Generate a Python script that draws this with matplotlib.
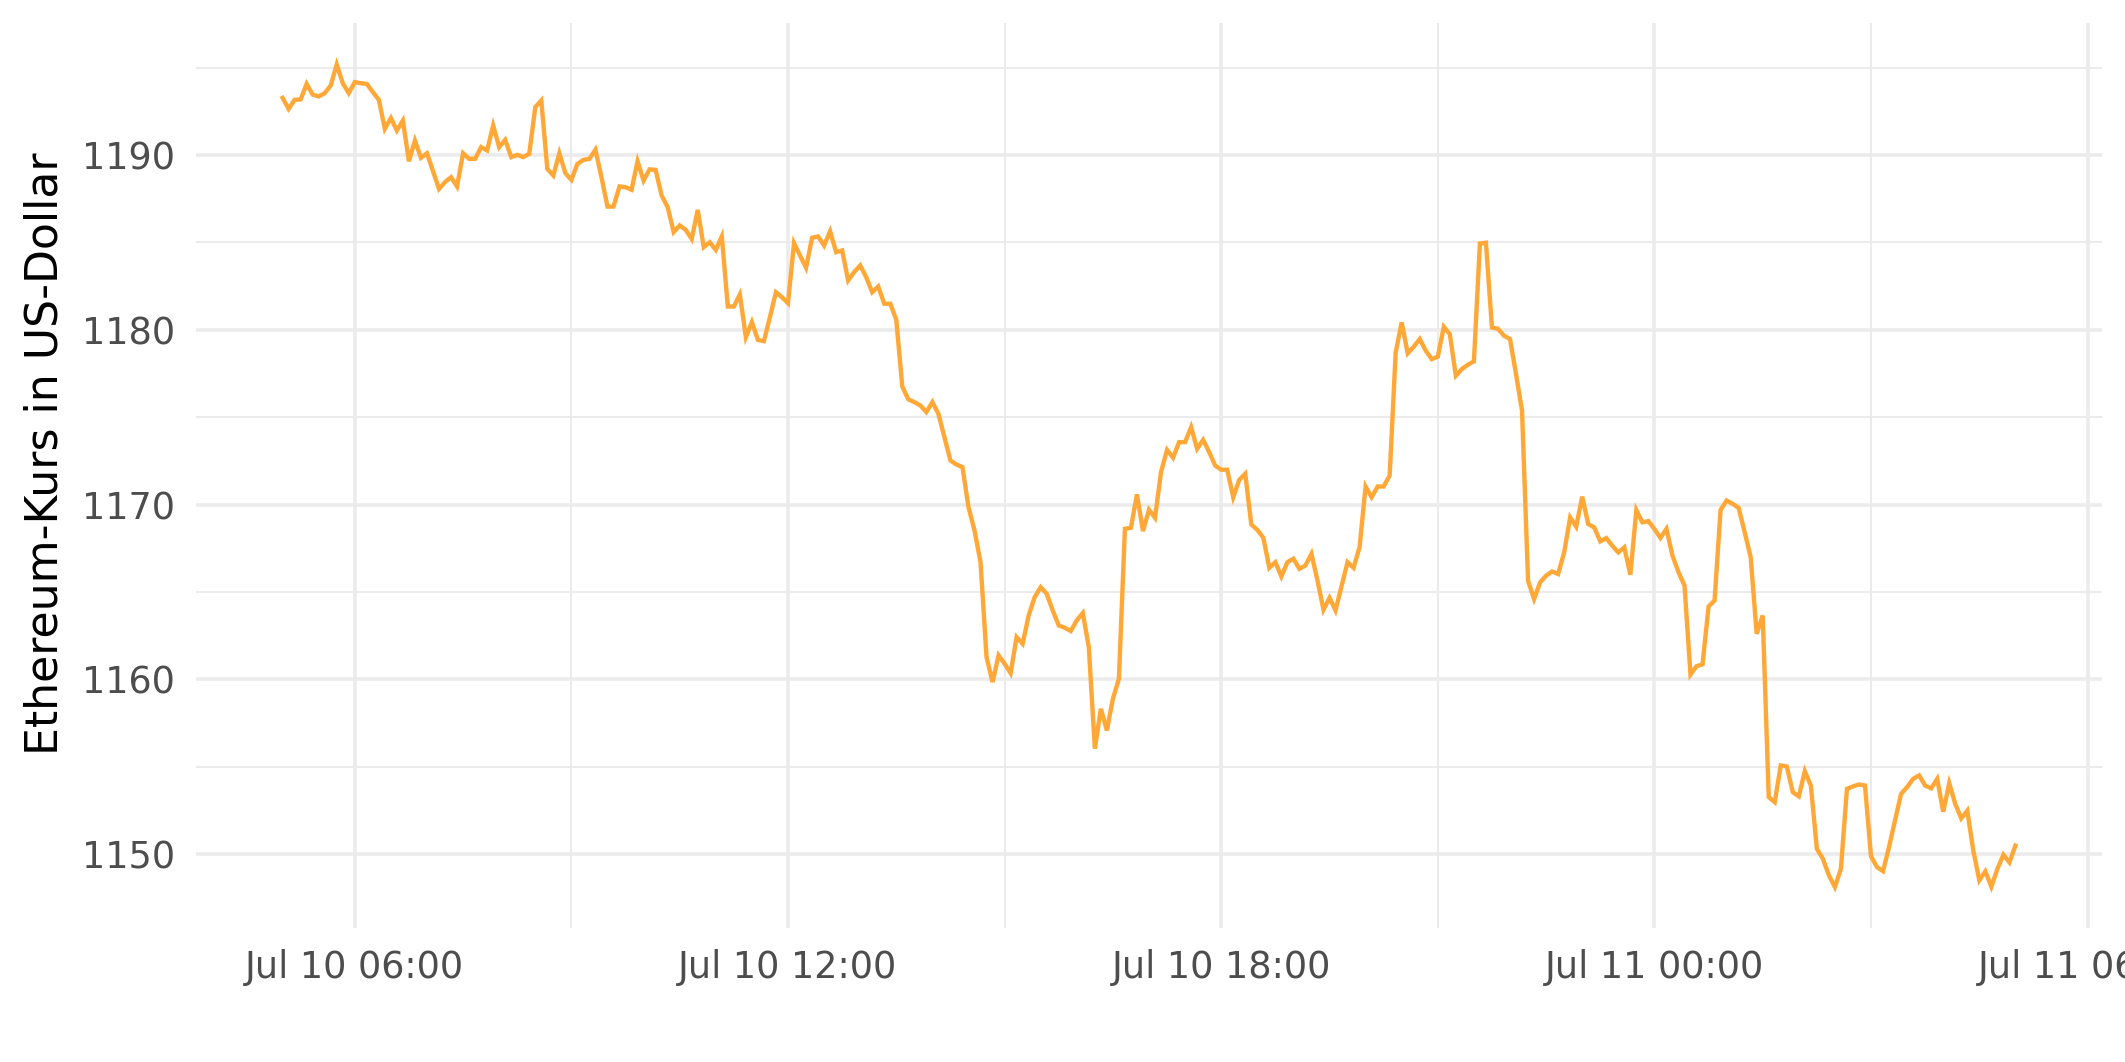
import numpy as np
import pandas as pd
import matplotlib
matplotlib.use("Agg")
import matplotlib.pyplot as plt
import matplotlib.dates as mdates

# 5-minute ETH prices, Jul 10 2022 05:00 -> Jul 11 2022 05:00
start = "2022-07-10 05:00"
freq = "5min"
price = [
    1193.27, 1192.64, 1193.16, 1193.18, 1194.07, 1193.46, 1193.35, 1193.54, 1193.97, 1195.18,
    1194.11, 1193.54, 1194.17, 1194.11, 1194.07, 1193.60, 1193.16, 1191.50, 1192.12, 1191.40,
    1191.97, 1189.64, 1190.83, 1189.84, 1190.10, 1189.08, 1188.06, 1188.45, 1188.73, 1188.20,
    1190.10, 1189.78, 1189.78, 1190.45, 1190.26, 1191.69, 1190.45, 1190.87, 1189.88, 1190.01,
    1189.88, 1190.07, 1192.74, 1193.12, 1189.21, 1188.83, 1190.10, 1188.96, 1188.58, 1189.49,
    1189.72, 1189.78, 1190.30, 1188.73, 1187.05, 1187.05, 1188.20, 1188.16, 1188.01, 1189.64,
    1188.54, 1189.18, 1189.15, 1187.68, 1187.02, 1185.59, 1185.97, 1185.72, 1185.20, 1186.86,
    1184.73, 1185.01, 1184.57, 1185.34, 1181.33, 1181.33, 1182.02, 1179.58, 1180.44, 1179.42,
    1179.35, 1180.72, 1182.15, 1181.86, 1181.52, 1184.96, 1184.25, 1183.55, 1185.26, 1185.34,
    1184.82, 1185.64, 1184.44, 1184.54, 1182.82, 1183.30, 1183.68, 1183.01, 1182.15, 1182.48,
    1181.49, 1181.49, 1180.57, 1176.75, 1176.02, 1175.86, 1175.67, 1175.29, 1175.86, 1175.19,
    1173.86, 1172.52, 1172.29, 1172.14, 1169.85, 1168.52, 1166.70, 1161.27, 1159.84, 1161.37,
    1160.89, 1160.35, 1162.41, 1162.03, 1163.65, 1164.70, 1165.27, 1164.89, 1163.94, 1163.08,
    1162.95, 1162.76, 1163.37, 1163.79, 1161.84, 1156.03, 1158.31, 1157.07, 1158.88, 1160.03,
    1168.61, 1168.67, 1170.58, 1168.48, 1169.70, 1169.24, 1171.85, 1173.13, 1172.68, 1173.57,
    1173.57, 1174.43, 1173.19, 1173.70, 1173.00, 1172.23, 1171.99, 1171.99, 1170.42, 1171.41,
    1171.76, 1168.86, 1168.55, 1168.10, 1166.38, 1166.70, 1165.88, 1166.70, 1166.90, 1166.32,
    1166.51, 1167.18, 1165.66, 1163.98, 1164.66, 1163.94, 1165.31, 1166.70, 1166.38, 1167.56,
    1171.03, 1170.42, 1171.03, 1171.03, 1171.66, 1178.70, 1180.42, 1178.65, 1179.03, 1179.47,
    1178.80, 1178.32, 1178.46, 1180.17, 1179.75, 1177.37, 1177.75, 1178.00, 1178.19, 1184.94,
    1184.98, 1180.13, 1180.06, 1179.66, 1179.47, 1177.46, 1175.37, 1165.64, 1164.59, 1165.54,
    1165.93, 1166.17, 1166.02, 1167.26, 1169.26, 1168.73, 1170.45, 1168.88, 1168.69, 1167.89,
    1168.08, 1167.64, 1167.26, 1167.55, 1165.98, 1169.68, 1168.98, 1169.05, 1168.60, 1168.09,
    1168.61, 1167.08, 1166.13, 1165.37, 1160.27, 1160.75, 1160.85, 1164.16, 1164.51, 1169.69,
    1170.23, 1170.04, 1169.81, 1168.42, 1166.99, 1162.60, 1163.65, 1153.26, 1152.97, 1155.07,
    1155.01, 1153.54, 1153.30, 1154.74, 1153.92, 1150.30, 1149.73, 1148.78, 1148.11, 1149.16,
    1153.73, 1153.87, 1153.98, 1153.92, 1149.86, 1149.25, 1149.02, 1150.41, 1151.94, 1153.44,
    1153.83, 1154.30, 1154.50, 1153.92, 1153.76, 1154.30, 1152.42, 1154.05, 1152.87, 1152.04,
    1152.48, 1150.20, 1148.50, 1149.01, 1148.13, 1149.14, 1149.96, 1149.52, 1150.48,
]
y_ticks = [1150, 1160, 1170, 1180, 1190]
y_label = "Ethereum-Kurs in US-Dollar"

time = pd.date_range(start, periods=len(price), freq=freq)

fig = plt.figure(figsize=(2125 / 300, 1062 / 300), dpi=300)
ax = fig.add_axes([0.0922, 0.126, 0.897, 0.852])

ax.plot(time, price, color="#FFA838", lw=1.05, solid_joinstyle="miter", zorder=3)
ax.margins(x=0.05, y=0.05)

ax.xaxis.set_major_locator(mdates.HourLocator(byhour=[0, 6, 12, 18]))
ax.xaxis.set_minor_locator(mdates.HourLocator(byhour=[3, 9, 15, 21]))
ax.xaxis.set_major_formatter(mdates.DateFormatter("%b %d %H:%M"))
ax.set_yticks(y_ticks)
ax.set_yticks([1155, 1165, 1175, 1185, 1195], minor=True)

ax.grid(which="major", color="#EBEBEB", lw=0.85)
ax.grid(which="minor", color="#EBEBEB", lw=0.5)
ax.set_axisbelow(True)
for s in ax.spines.values():
    s.set_visible(False)
ax.tick_params(which="both", length=0, labelsize=8.8, labelcolor="#4D4D4D", pad=5)
ax.set_ylabel(y_label, fontsize=10.6, color="black")
ax.yaxis.set_label_coords(-0.068, 0.524)

fig.savefig("out.png", dpi=300, facecolor="white")
